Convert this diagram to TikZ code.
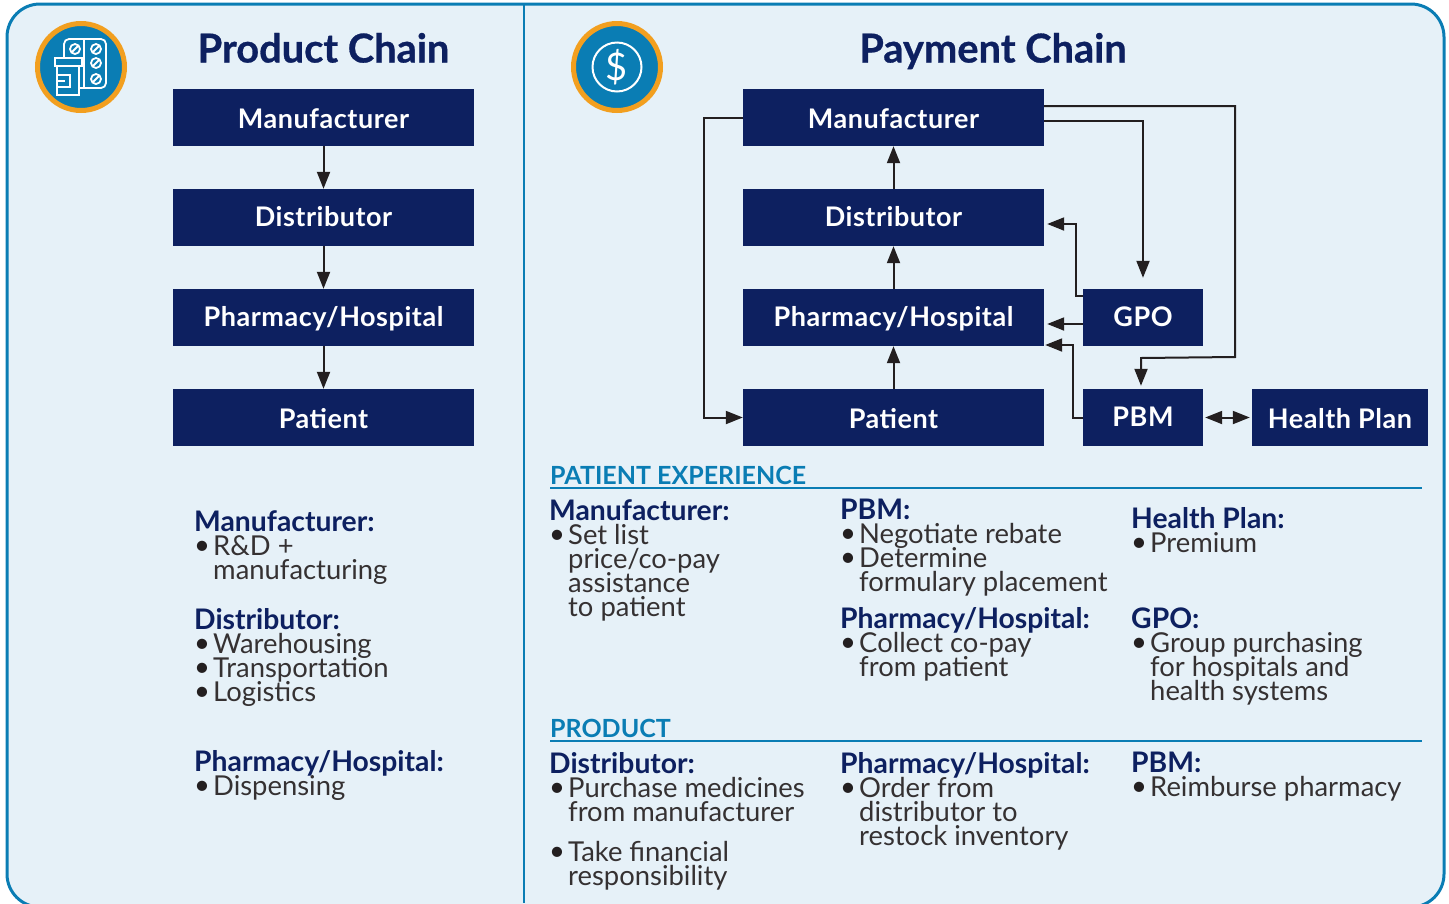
\documentclass[tikz,border=0pt]{standalone}
\usepackage{fontspec}
\setmainfont{Lato}
\newfontfamily\boxfont[LetterSpace=2]{Lato}
\newfontfamily\titlefont[BoldFeatures={FakeBold=0.7}]{Lato}
\usetikzlibrary{arrows.meta}
\definecolor{navy}{HTML}{0D2060}
\definecolor{teal}{HTML}{0A7DB4}
\definecolor{amber}{HTML}{F29F1F}
\definecolor{pale}{HTML}{E6F1F8}
\definecolor{ink}{HTML}{231F20}
\setlength{\lineskiplimit}{-100pt}
\setlength{\normallineskiplimit}{-100pt}
\newcommand{\bl}{\makebox[19pt][l]{\raisebox{1pt}{\textcolor{ink}{\textbullet}}}}
\newcommand{\ind}{\hspace*{19pt}}
\newcommand{\hd}[1]{{\fontsize{28.3}{24}\selectfont\bfseries\color{navy}#1}}
\tikzset{
  box/.style={fill=navy,text=white,font=\fontsize{27}{27}\selectfont\boxfont\bfseries,inner sep=0pt,minimum height=57pt,text height=17pt,text depth=0pt},
  low/.style={text height=21pt},
  flow/.style={draw=ink,line width=2pt,-{Triangle[length=17pt,width=13pt]}},
  chaintitle/.style={anchor=base,text=navy,font=\fontsize{39.8}{39.8}\selectfont\titlefont\bfseries,inner sep=0pt},
  txt/.style={anchor=north west,align=left,inner sep=0pt,text=ink!92,font=\fontsize{27.4}{24}\selectfont},
  sect/.style={anchor=base west,inner sep=0pt,text=teal,font=\fontsize{25}{25}\selectfont\bfseries},
  secrule/.style={draw=teal,line width=1.2pt},
  ico/.style={draw=white,line width=1.8pt}
}
\begin{document}
\begin{tikzpicture}[x=1pt,y=-1pt]
\useasboundingbox (0,0) rectangle (1449,903);
\clip (0,0) rectangle (1449,903);
\draw[draw=teal,fill=pale,line width=3pt,rounded corners=33pt] (7,4) rectangle (1444,907);
\draw[teal,line width=1.2pt] (524,4)--(524,903);
% icons
\filldraw[fill=teal,draw=amber,line width=5pt] (81,67) circle (43.5);
\filldraw[fill=teal,draw=amber,line width=5pt] (617,67) circle (43.5);
\draw[ico,rounded corners=5pt] (64,58)--(64,39)--(106,39)--(106,88)--(79,88);
\draw[ico] (84,39)--(84,88);
\foreach \x/\y in {75/49,96/49,96/63,96/79}{
  \draw[ico] (\x,\y) circle (5);
  \draw[ico] (\x-3.5,\y+3.5)--(\x+3.5,\y-3.5);
}
\draw[ico] (55,58) rectangle (82,66);
\draw[ico] (57,66)--(57,95)--(79,95)--(79,66);
\draw[ico] (57,75)--(70,75)--(70,87)--(57,87);
\draw[ico] (57,81)--(65,81);
\draw[white,line width=2pt] (617,67) circle (24.5);
\node[inner sep=0pt,text=white,font=\fontsize{38}{38}\selectfont] (dollar) at (617,67) {\$};
% titles
\node[chaintitle] (ptitle) at (323.5,62.5) {Product Chain};
\node[chaintitle] (ctitle) at (993,62.5) {Payment Chain};
% product chain
\node[box,low,minimum width=301pt] (m1) at (323.5,117.5) {Manufacturer};
\node[box,minimum width=301pt] (d1) at (323.5,217.5) {Distributor};
\node[box,minimum width=301pt] (h1) at (323.5,317.5) {Pharmacy/Hospital};
\node[box,low,minimum width=301pt] (p1) at (323.5,417.5) {Patient};
\draw[flow] (m1)--(d1);
\draw[flow] (d1)--(h1);
\draw[flow] (h1)--(p1);
% payment chain
\node[box,low,minimum width=301pt] (m2) at (893.5,117.5) {Manufacturer};
\node[box,minimum width=301pt] (d2) at (893.5,217.5) {Distributor};
\node[box,minimum width=301pt] (h2) at (893.5,317.5) {Pharmacy/Hospital};
\node[box,low,minimum width=301pt] (p2) at (893.5,417.5) {Patient};
\node[box,minimum width=120pt] (gpo) at (1143,317.5) {GPO};
\node[box,minimum width=120pt] (pbm) at (1143,417.5) {PBM};
\node[box,low,minimum width=176pt] (plan) at (1340,417.5) {Health Plan};
\draw[flow] (d2)--(m2);
\draw[flow] (h2)--(d2);
\draw[flow] (p2)--(h2);
\draw[flow] (m2.west)--(704,117.5)--(704,417.5)--(p2.west);
\coordinate (k1) at (1235,106);
\coordinate (k2) at (1235,357);
\coordinate (k3) at (1141,358);
\draw[flow,shorten >=3pt] ([yshift=11.5pt]m2.east)--(k1)--(k2)--(k3)--(k3|-pbm.north);
\draw[flow,shorten >=11pt] ([yshift=-3.5pt]m2.east)-|(gpo.north);
\draw[flow,shorten >=3pt] ([yshift=21.5pt]gpo.west)--(1076,296)--(1076,224)--(d2.east|-0,224);
\draw[flow,shorten >=3pt] ([yshift=-6.5pt]gpo.west)--(h2.east|-0,324);
\draw[flow,shorten >=1pt] (pbm.west)--(1073,417.5)--(1073,345)--(h2.east|-0,345);
\draw[flow,{Triangle[length=17pt,width=13pt]}-{Triangle[length=17pt,width=13pt]},shorten >=2pt,shorten <=2pt] (pbm)--(plan);
% left notes
\node[txt] (n1) at (194,510) {\hd{Manufacturer:}\\\bl R\&D +\\\ind manufacturing};
\node[txt] (n2) at (194,608) {\hd{Distributor:}\\\bl Warehousing\\\bl Transportation\\\bl Logistics};
\node[txt] (n3) at (194,750) {\hd{Pharmacy/Hospital:}\\\bl Dispensing};
% patient experience
\node[sect] (c1) at (550,484) {PATIENT EXPERIENCE};
\draw[secrule] (c1.base west|-0,488)--(1422,488);
\node[txt] (n4) at (549,499) {\hd{Manufacturer:}\\\bl Set list\\\ind price/co-pay\\\ind assistance\\\ind to patient};
\node[txt] (n5) at (840,499) {\hd{PBM:}\\\bl Negotiate rebate\\\bl Determine\\\ind formulary placement};
\node[txt] (n6) at (840,607) {\hd{Pharmacy/Hospital:}\\\bl Collect co-pay\\\ind from patient};
\node[txt] (n7) at (1131,507) {\hd{Health Plan:}\\\bl Premium};
\node[txt] (n8) at (1131,608) {\hd{GPO:}\\\bl Group purchasing\\\ind for hospitals and\\\ind health systems};
% product
\node[sect] (c2) at (550,737) {PRODUCT};
\draw[secrule] (c2.base west|-0,741)--(1422,741);
\node[txt] (n9) at (549,752) {\hd{Distributor:}\\\bl Purchase medicines\\\ind from manufacturer};
\node[txt] (n10) at (549,841) {\bl Take financial\\\ind responsibility};
\node[txt] (n11) at (840,752) {\hd{Pharmacy/Hospital:}\\\bl Order from\\\ind distributor to\\\ind restock inventory};
\node[txt] (n12) at (1131,752) {\hd{PBM:}\\\bl Reimburse pharmacy};
\end{tikzpicture}
\end{document}
